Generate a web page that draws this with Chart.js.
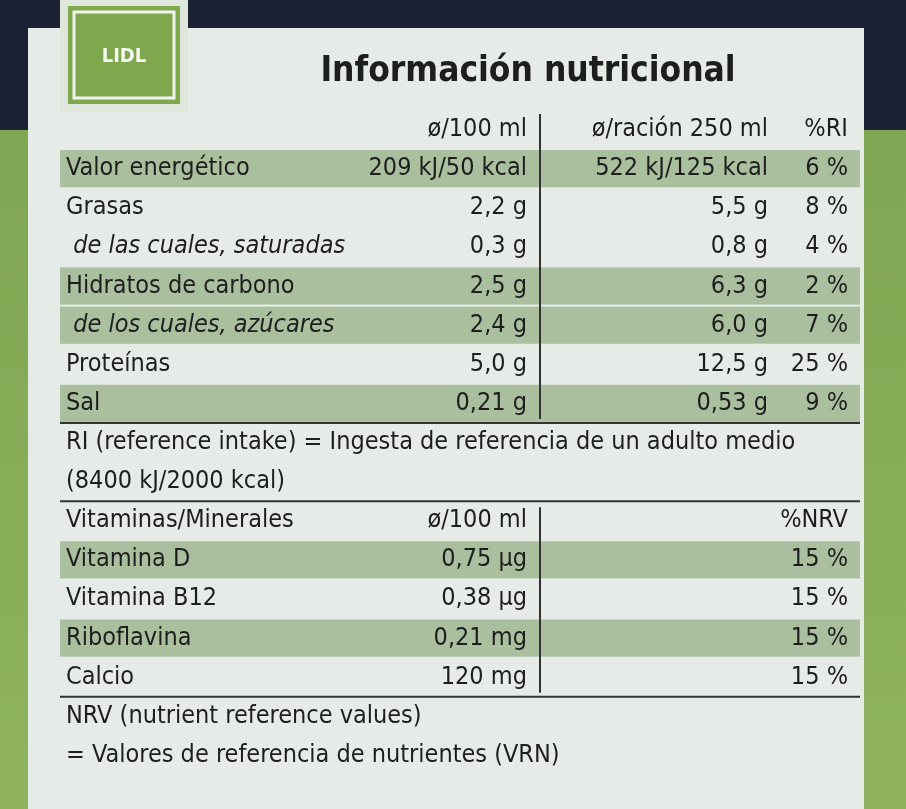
<!DOCTYPE html>
<html><head><meta charset="utf-8">
<script src="https://cdn.jsdelivr.net/npm/chart.js@4"></script>
<style>
html,body{margin:0;padding:0;background:#6f9a4a;}
#wrap{position:relative;width:906px;height:809px;background:linear-gradient(180deg,#1b2233 0,#1b2233 130px,#7fa653 130px,#8fb35e 809px);}
canvas{position:absolute;left:0;top:0;}
</style></head><body>
<div id="wrap"><canvas id="c" width="906" height="809"></canvas></div>
<script>
const rowLabels=["hdr","Valor energético","Grasas"," de las cuales, saturadas","Hidratos de carbono"," de los cuales, azúcares","Proteínas","Sal","RI1","RI2","Vitaminas/Minerales","Vitamina D","Vitamina B12","Riboflavina","Calcio","NRV1","NRV2"];
const per100=["ø/100 ml","209 kJ/50 kcal","2,2 g","0,3 g","2,5 g","2,4 g","5,0 g","0,21 g","","","ø/100 ml","0,75 µg","0,38 µg","0,21 mg","120 mg","",""];
const perServing=["ø/ración 250 ml","522 kJ/125 kcal","5,5 g","0,8 g","6,3 g","6,0 g","12,5 g","0,53 g","","","","","","","","",""];
const pctRI=["%RI","6 %","8 %","4 %","2 %","7 %","25 %","9 %","","","%NRV","15 %","15 %","15 %","15 %","",""];
const riValues=[0,6,8,4,2,7,25,9,0,0,0,15,15,15,15,0,0];
const fullLines={"RI1":"RI (reference intake) = Ingesta de referencia de un adulto medio","RI2":"(8400 kJ/2000 kcal)","NRV1":"NRV (nutrient reference values)","NRV2":"= Valores de referencia de nutrientes (VRN)"};
const shaded=["Valor energético","Hidratos de carbono"," de los cuales, azúcares","Sal","Vitamina D","Riboflavina"];
const italic=[" de las cuales, saturadas"," de los cuales, azúcares"];

const F='"DejaVu Sans Condensed","Liberation Sans Narrow",sans-serif';
const labelPlugin={id:'label',
beforeDraw(ch){const c=ch.ctx,y=ch.scales.y;
 c.save();
 c.fillStyle='#e6ebe8';c.fillRect(28,28,836,781);
 c.fillStyle='#dfe6dc';c.fillRect(60,0,128,112);
 c.fillStyle='#7fa84e';c.fillRect(68,6,112,98);
 c.strokeStyle='#f1f4ee';c.lineWidth=3;c.strokeRect(74,12,100,86);
 c.fillStyle='#f4f6ef';c.font='bold 20px '+F;c.textAlign='center';c.textBaseline='middle';c.fillText('LIDL',124,57);
 const h=y.getPixelForValue(1)-y.getPixelForValue(0);
 rowLabels.forEach((l,i)=>{if(shaded.includes(l)){c.fillStyle='#aabf9e';const p=y.getPixelForValue(i);c.fillRect(60,p-h/2+1,800,h-2);}});
 c.restore();},
afterDraw(ch){const c=ch.ctx,y=ch.scales.y;c.save();
 c.fillStyle='#1e1e1e';c.textBaseline='middle';
 c.font='bold 35px '+F;c.textAlign='center';c.fillText('Información nutricional',528,72);
 const h=y.getPixelForValue(1)-y.getPixelForValue(0);
 rowLabels.forEach((l,i)=>{const p=y.getPixelForValue(i);
  c.font=(italic.includes(l)?'italic ':'')+'25px '+F;c.textAlign='left';
  if(fullLines[l]){c.fillText(fullLines[l],66,p);return;}
  if(l!=='hdr')c.fillText(l,66,p);
  c.font='25px '+F;c.textAlign='right';
  c.fillText(per100[i],527,p);c.fillText(perServing[i],768,p);c.fillText(pctRI[i],848,p);});
 c.strokeStyle='#333';c.lineWidth=2;
 const top=y.getPixelForValue(0)-h/2,b1=y.getPixelForValue(7)+h/2;
 c.beginPath();c.moveTo(540,top+4);c.lineTo(540,b1-4);c.stroke();
 const t2=y.getPixelForValue(10)-h/2,b2=y.getPixelForValue(14)+h/2;
 c.beginPath();c.moveTo(540,t2+6);c.lineTo(540,b2-4);c.stroke();
 [b1,t2,b2].forEach(v=>{c.beginPath();c.moveTo(60,v);c.lineTo(860,v);c.stroke();});
 c.restore();}};
new Chart(document.getElementById('c'),{type:'bar',
 data:{labels:rowLabels,datasets:[{data:riValues,backgroundColor:'rgba(0,0,0,0)'}]},
 options:{indexAxis:'y',responsive:false,animation:false,devicePixelRatio:1,
  layout:{padding:{top:110,bottom:34,left:60,right:46}},
  plugins:{legend:{display:false},tooltip:{enabled:false}},
  scales:{y:{display:false},x:{display:false,min:0,max:30}}},
 plugins:[labelPlugin]});
</script></body></html>
